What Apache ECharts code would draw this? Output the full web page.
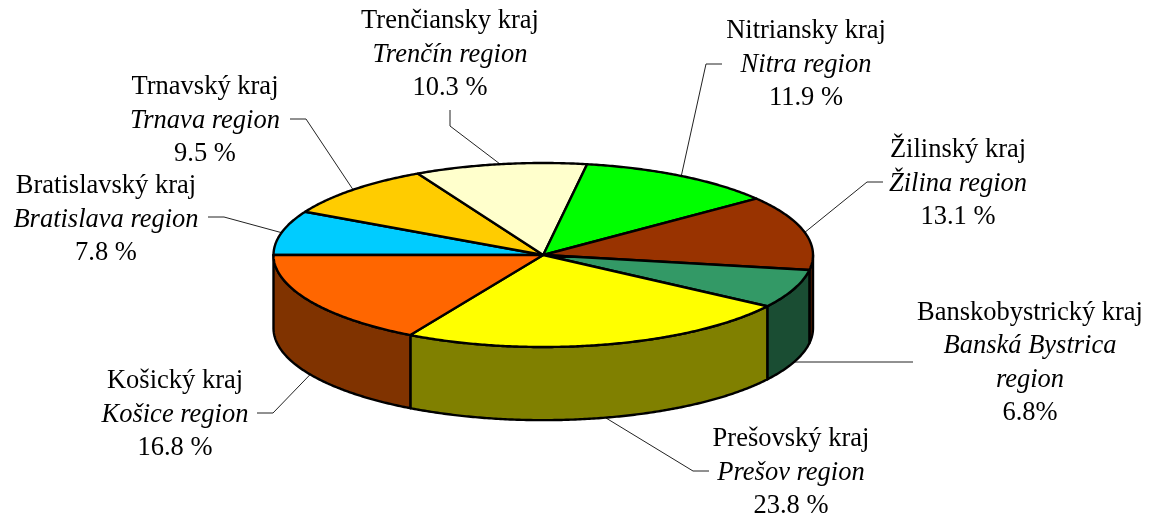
<!DOCTYPE html>
<html>
<head>
<meta charset="utf-8">
<style>
  html, body { margin: 0; padding: 0; background: #fff; }
  #chart { width: 1149px; height: 520px; }
</style>
<script src="https://cdn.jsdelivr.net/npm/echarts@6/dist/echarts.min.js"></script>
</head>
<body>
<div id="chart"></div>
<script>
// slices run clockwise, starting at 9 o'clock
var regionsSk = ['Bratislavský kraj', 'Trnavský kraj', 'Trenčiansky kraj', 'Nitriansky kraj', 'Žilinský kraj', 'Banskobystrický kraj', 'Prešovský kraj', 'Košický kraj'];
var regionsEn = [['Bratislava region'], ['Trnava region'], ['Trenčín region'], ['Nitra region'], ['Žilina region'], ['Banská Bystrica', 'region'], ['Prešov region'], ['Košice region']];
var shares = [7.8, 9.5, 10.3, 11.9, 13.1, 6.8, 23.8, 16.8];
var shareLabels = ['7.8 %', '9.5 %', '10.3 %', '11.9 %', '13.1 %', '6.8%', '23.8 %', '16.8 %'];

var topColors = ['#00CCFF', '#FFCC00', '#FFFFCC', '#00FF00', '#993300', '#339966', '#FFFF00', '#FF6600'];
var sideColors = ['#006680', '#806600', '#808066', '#008000', '#4D1A00', '#1A4D33', '#808000', '#803300'];

// label centre, then the leader's start and elbow (pixels)
var labelPos = [[106, 220], [205, 121], [450, 55], [806, 65], [958, 184], [1030, 363], [791, 473], [175, 415]];
var leaderStart = [[208, 217], [290, 119], [450, 110], [722, 64], [883, 182], [913, 362], [709, 471], [257, 413]];
var leaderElbow = [[224, 217], [306, 119], [450, 126], [706, 64], [867, 182], [913, 362], [693, 471], [273, 413]];

// pie height as a fraction of the vertical radius
var DEPTH = 0.795;

var sliceData = [];
var running = 0;
shares.forEach(function (v, i) {
  sliceData.push([running, running + v, i]);
  running += v;
});

function rim(deg, drop) {
  var a = deg * Math.PI / 180;
  return [-Math.cos(a), Math.sin(a) - (drop || 0)];
}

function arcPoints(api, from, to, drop) {
  var pts = [];
  var n = Math.max(2, Math.ceil((to - from) * 2));
  for (var k = 0; k <= n; k++) {
    pts.push(api.coord(rim(from + (to - from) * k / n, drop)));
  }
  return pts;
}

function renderSide(params, api) {
  var i = api.value(2);
  var from = Math.max(api.value(0) * 3.6, 180);
  var to = Math.min(api.value(1) * 3.6, 360);
  if (to <= from) return { type: 'group', children: [] };
  var pts = arcPoints(api, from, to, 0).concat(arcPoints(api, from, to, DEPTH).reverse());
  return {
    type: 'polygon',
    shape: { points: pts },
    style: { fill: sideColors[i], stroke: '#000', lineWidth: 2.4, lineJoin: 'round' }
  };
}

function renderTop(params, api) {
  var i = api.value(2);
  var from = api.value(0) * 3.6;
  var to = api.value(1) * 3.6;
  var pts = [api.coord([0, 0])].concat(arcPoints(api, from, to, 0));
  return {
    type: 'polygon',
    shape: { points: pts },
    style: { fill: topColors[i], stroke: '#000', lineWidth: 2.4, lineJoin: 'round' }
  };
}

function renderLeader(params, api) {
  var i = api.value(2);
  var mid = (api.value(0) + api.value(1)) / 2 * 3.6;
  var end = api.coord(rim(mid, mid > 180 ? DEPTH : 0));
  return {
    type: 'polyline',
    shape: { points: [leaderStart[i], leaderElbow[i], end] },
    style: { fill: 'none', stroke: '#222', lineWidth: 1 }
  };
}

function renderLabel(params, api) {
  var i = api.value(2);
  var lines = ['{n|' + regionsSk[i] + '}'];
  regionsEn[i].forEach(function (s) { lines.push('{e|' + s + '}'); });
  lines.push('{n|' + shareLabels[i] + '}');
  return {
    type: 'text',
    x: labelPos[i][0],
    y: labelPos[i][1],
    style: {
      text: lines.join('\n'),
      align: 'center',
      verticalAlign: 'middle',
      rich: {
        n: { fontFamily: 'Liberation Serif', fontSize: 26.5, lineHeight: 33.5, fill: '#000', align: 'center' },
        e: { fontFamily: 'Liberation Serif', fontSize: 26.5, fontStyle: 'italic', lineHeight: 33.5, fill: '#000', align: 'center' }
      }
    }
  };
}

function customSeries(render, z) {
  return {
    type: 'custom',
    coordinateSystem: 'cartesian2d',
    renderItem: render,
    data: sliceData,
    z: z,
    clip: false,
    silent: true,
    animation: false,
    encode: { x: 0, y: 1 }
  };
}

var chart = echarts.init(document.getElementById('chart'), null, { renderer: 'canvas' });
chart.setOption({
  backgroundColor: '#fff',
  animation: false,
  // the grid box is the pie's top ellipse
  grid: { left: 273.5, top: 163, width: 539.5, height: 184, containLabel: false },
  xAxis: { type: 'value', min: -1, max: 1, show: false },
  yAxis: { type: 'value', min: -1, max: 1, show: false },
  series: [
    customSeries(renderLeader, 1),
    customSeries(renderSide, 2),
    customSeries(renderTop, 3),
    customSeries(renderLabel, 4)
  ]
});
</script>
</body>
</html>
